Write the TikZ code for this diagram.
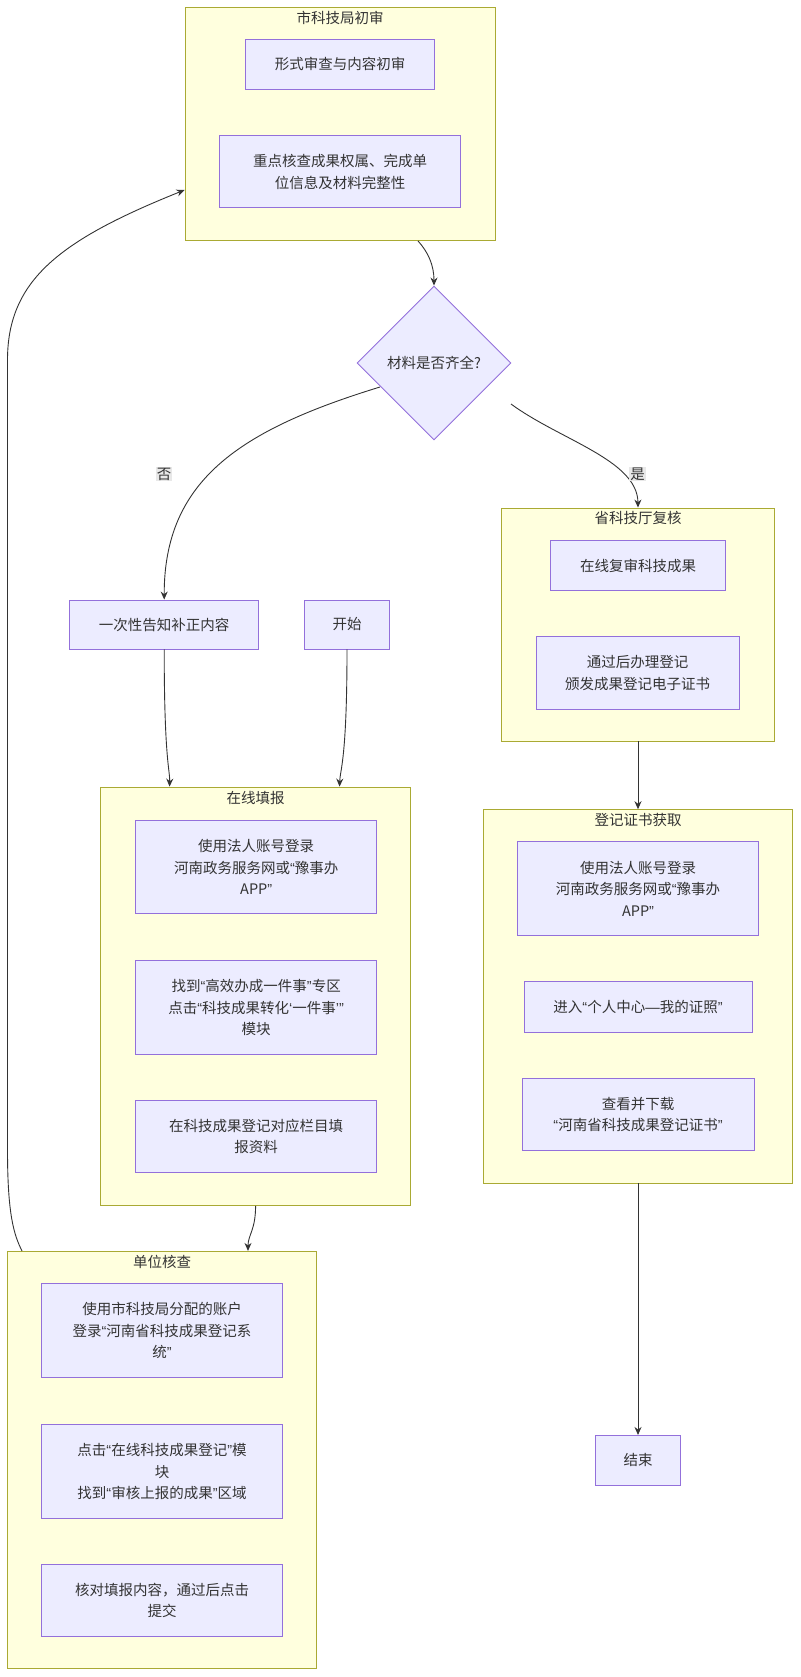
\documentclass[tikz,border=0pt]{standalone}
\usepackage{fontspec}
\setmainfont{Noto Sans CJK SC}
\newfontfamily\qfont{Liberation Sans}
\newcommand\qo{{\qfont “}}
\newcommand\qc{{\qfont ”}}
\newcommand\sqo{{\qfont ‘}}
\newcommand\sqc{{\qfont ’}}
\usetikzlibrary{arrows.meta,shapes.geometric,calc}
\definecolor{nodefill}{HTML}{ECECFF}
\definecolor{nodestroke}{HTML}{9370DB}
\definecolor{clfill}{HTML}{FFFFDE}
\definecolor{clstroke}{HTML}{AAAA33}
\definecolor{txt}{HTML}{333333}
\definecolor{lblbg}{HTML}{E8E8E8}
\begin{document}
\begin{tikzpicture}[x=1pt,y=-1pt,
  box/.style={draw=nodestroke, fill=nodefill, line width=0.9pt, text=txt,
    font=\fontsize{14.5}{21.7}\selectfont, align=center, inner sep=0pt},
  cluster/.style={draw=clstroke, fill=clfill, line width=0.9pt, inner sep=0pt},
  ttl/.style={text=txt, font=\fontsize{14.5}{21.7}\selectfont, inner sep=0pt},
  edge/.style={draw=txt, line width=0.9pt, -{Stealth[length=8pt,width=7pt]}},
  lbl/.style={fill=lblbg, text=txt, font=\fontsize{14.5}{17}\selectfont, inner sep=1pt}]
\useasboundingbox (0,0) rectangle (800,1677);

% clusters
\node[cluster, minimum width=310, minimum height=233] (c1) at (340,124) {};
\node[ttl] (t1) at (340,18) {市科技局初审};
\node[cluster, minimum width=310.2, minimum height=418.3] (c2) at (255.6,996.2) {};
\node[ttl] (t2) at (255.6,798) {在线填报};
\node[cluster, minimum width=309.1, minimum height=417.1] (c3) at (162,1459.9) {};
\node[ttl] (t3) at (162,1262) {单位核查};
\node[cluster, minimum width=272.7, minimum height=233] (c4) at (638,624.5) {};
\node[ttl] (t4) at (638,518) {省科技厅复核};
\node[cluster, minimum width=309.1, minimum height=373.3] (c5) at (638,996.3) {};
\node[ttl] (t5) at (638,820) {登记证书获取};

% nodes
\node[box, minimum width=189, minimum height=49.5] (a1) at (340,64.3) {形式审查与内容初审};
\node[box, minimum width=241, minimum height=71.5] (a2) at (340,171.7) {重点核查成果权属、完成单\\位信息及材料完整性};
\node[box, shape=diamond, shape aspect=1, minimum width=154, minimum height=154] (dia) at (434,363) {材料是否齐全?};
\node[box, minimum width=189.3, minimum height=49] (n) at (164.2,624.5) {一次性告知补正内容};
\node[box, minimum width=84.5, minimum height=49] (s) at (347,624.5) {开始};

\node[box, minimum width=240.7, minimum height=93.1] (b1) at (256.2,866.9) {使用法人账号登录\\河南政务服务网或\qo 豫事办\\APP\qc};
\node[box, minimum width=240.7, minimum height=94] (b2) at (256.2,1007.5) {找到\qo 高效办成一件事\qc 专区\\点击\qo 科技成果转化\sqo 一件事\sqc\qc\\模块};
\node[box, minimum width=240.7, minimum height=71.7] (b3) at (256.2,1136.4) {在科技成果登记对应栏目填\\报资料};

\node[box, minimum width=240.6, minimum height=94] (cc1) at (162,1330.5) {使用市科技局分配的账户\\登录\qo 河南省科技成果登记系\\统\qc};
\node[box, minimum width=240.6, minimum height=94] (cc2) at (162,1471.7) {点击\qo 在线科技成果登记\qc 模\\块\\找到\qo 审核上报的成果\qc 区域};
\node[box, minimum width=240.6, minimum height=71.6] (cc3) at (162,1600.5) {核对填报内容，通过后点击\\提交};

\node[box, minimum width=174.2, minimum height=50] (d1) at (638,565.5) {在线复审科技成果};
\node[box, minimum width=203.3, minimum height=72.3] (d2) at (637.6,672.8) {通过后办理登记\\颁发成果登记电子证书};

\node[box, minimum width=240.7, minimum height=94] (e1) at (638,888.8) {使用法人账号登录\\河南政务服务网或\qo 豫事办\\APP\qc};
\node[box, minimum width=227.9, minimum height=50.2] (e2) at (638,1006.9) {进入\qo 个人中心{\qfont —}我的证照\qc};
\node[box, minimum width=232, minimum height=72.8] (e3) at (638,1114.4) {查看并下载\\\qo 河南省科技成果登记证书\qc};

\node[box, minimum width=84.5, minimum height=50] (end) at (638,1460.4) {结束};

% edges
\draw[edge] ($(c1.south)+(78,0)$) .. controls (428,252) and (434,265) .. (dia.north);
\draw[edge] (380,387) .. controls (240,430) and (164,480) .. (n.north);
\node[lbl] (lno) at (164,474) {否};
\draw[edge] (511,404) .. controls (560,440) and (637.5,460) .. (c4.north);
\node[lbl] (lyes) at (637.5,474) {是};
\draw[edge] (n.south) .. controls (164.2,760) and (170,770) .. ($(c2.north west)+(69.5,0)$);
\draw[edge] (s.south) .. controls (347,760) and (340,770) .. ($(c2.north west)+(239.5,0)$);
\draw[edge] (c2.south) .. controls (255.6,1230) and (248,1235) .. ($(c3.north)+(86,0)$);
\draw[edge] ($(c3.north west)+(15,0)$) .. controls (14,1235) and (7.5,1215) .. (7.5,1150)
  -- (7.5,360) .. controls (7.5,280) and (60,240) .. ($(c1.west)+(0,66)$);
\draw[edge] (c4.south) -- (c5.north);
\draw[edge] (c5.south) -- (end.north);
\end{tikzpicture}
\end{document}
